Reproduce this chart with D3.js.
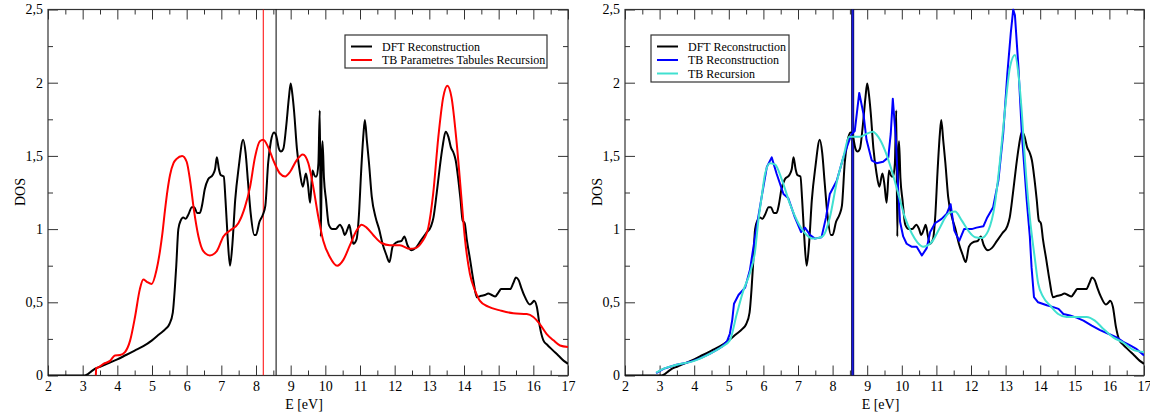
<!DOCTYPE html>
<html>
<head>
<meta charset="utf-8">
<script src="https://cdn.jsdelivr.net/npm/d3@7"></script>
<style>
  html, body { margin: 0; padding: 0; background: #fff; }
  svg { display: block; }
  text { font-family: "Liberation Serif", "Times New Roman", "DejaVu Serif", serif; }
</style>
</head>
<body>
<svg id="chart" width="1150" height="414"></svg>
<script>
// ---------- DATA (E [eV], DOS) ----------
const xMajorTicks = [2,3,4,5,6,7,8,9,10,11,12,13,14,15,16,17];
const yMajorTicks = [0, 0.5, 1, 1.5, 2, 2.5];
const yTickLabels = ["0", "0,5", "1", "1,5", "2", "2,5"];

const dftReconstruction = [
  [2,0],[3.05,0],[3.15,0.01],[3.26,0.03],[3.35,0.045],[3.5,0.06],[3.75,0.085],[4.0,0.11],
  [4.25,0.14],[4.5,0.17],[4.75,0.2],[5.0,0.24],[5.2,0.28],[5.4,0.32],[5.5,0.35],[5.6,0.43],
  [5.66,0.6],[5.7,0.75],[5.76,1.0],[5.83,1.06],[5.9,1.08],[5.97,1.07],[6.05,1.1],[6.15,1.15],
  [6.22,1.15],[6.3,1.11],[6.38,1.11],[6.45,1.17],[6.52,1.27],[6.62,1.34],[6.75,1.37],[6.82,1.41],
  [6.87,1.49],[6.93,1.41],[6.98,1.37],[7.07,1.36],[7.12,1.2],[7.18,0.95],[7.25,0.75],[7.32,0.9],
  [7.4,1.2],[7.5,1.42],[7.63,1.61],[7.7,1.52],[7.77,1.32],[7.85,1.1],[7.95,0.96],[8.0,0.96],
  [8.1,1.05],[8.2,1.1],[8.27,1.16],[8.35,1.45],[8.43,1.6],[8.52,1.66],[8.58,1.64],[8.66,1.55],
  [8.72,1.53],[8.79,1.55],[8.87,1.7],[8.95,1.9],[9.0,1.995],[9.05,1.92],[9.1,1.8],[9.18,1.55],
  [9.27,1.38],[9.35,1.29],[9.44,1.38],[9.5,1.3],[9.56,1.18],[9.63,1.40],[9.7,1.36],[9.75,1.36],
  [9.8,1.45],[9.84,1.81],[9.87,0.95],[9.9,1.5],[9.92,1.6],[9.96,1.35],[10.02,1.2],[10.1,1.03],
  [10.2,1.0],[10.3,1.0],[10.42,1.03],[10.5,1.0],[10.56,0.96],[10.64,1.0],[10.69,1.03],[10.75,0.96],
  [10.81,0.90],[10.9,0.93],[10.97,1.1],[11.03,1.38],[11.1,1.65],[11.14,1.745],[11.2,1.6],[11.26,1.45],
  [11.34,1.22],[11.45,1.08],[11.55,1.0],[11.65,0.9],[11.75,0.83],[11.85,0.775],[11.94,0.88],[12.06,0.91],
  [12.2,0.92],[12.28,0.95],[12.37,0.89],[12.49,0.855],[12.6,0.87],[12.75,0.92],[12.9,0.97],[13.05,1.02],
  [13.12,1.08],[13.21,1.24],[13.3,1.42],[13.38,1.56],[13.47,1.665],[13.55,1.63],[13.62,1.56],[13.7,1.52],
  [13.76,1.47],[13.83,1.35],[13.9,1.2],[13.96,1.06],[14.02,1.04],[14.08,0.93],[14.17,0.8],[14.27,0.65],
  [14.37,0.535],[14.5,0.545],[14.6,0.55],[14.7,0.56],[14.8,0.55],[14.9,0.54],[15.0,0.57],[15.07,0.59],
  [15.33,0.59],[15.42,0.63],[15.5,0.67],[15.58,0.65],[15.65,0.6],[15.76,0.535],[15.9,0.485],[15.98,0.5],
  [16.02,0.51],[16.1,0.47],[16.19,0.33],[16.29,0.24],[16.4,0.21],[16.55,0.175],[16.72,0.137],[16.88,0.1],
  [17.0,0.08]
];

const tbParametresTabules = [
  [3.38,0],[3.39,0.05],[3.45,0.055],[3.6,0.08],[3.79,0.10],[3.93,0.137],[4.08,0.14],[4.22,0.16],
  [4.37,0.24],[4.51,0.40],[4.65,0.59],[4.75,0.655],[4.85,0.64],[4.99,0.625],[5.13,0.72],[5.23,0.85],
  [5.3,0.97],[5.37,1.12],[5.45,1.27],[5.52,1.37],[5.62,1.45],[5.71,1.48],[5.87,1.50],[6.0,1.46],
  [6.1,1.33],[6.21,1.13],[6.34,0.95],[6.48,0.85],[6.67,0.82],[6.87,0.85],[7.06,0.95],[7.25,0.99],
  [7.49,1.04],[7.68,1.15],[7.83,1.29],[7.97,1.49],[8.11,1.60],[8.21,1.61],[8.35,1.56],[8.5,1.47],
  [8.69,1.38],[8.84,1.36],[8.98,1.39],[9.17,1.47],[9.35,1.51],[9.51,1.45],[9.65,1.29],[9.8,1.08],
  [9.94,0.92],[10.13,0.81],[10.34,0.75],[10.52,0.79],[10.71,0.89],[10.9,0.99],[11.05,1.03],[11.19,1.01],
  [11.38,0.96],[11.62,0.905],[11.86,0.89],[12.15,0.89],[12.44,0.865],[12.6,0.87],[12.78,0.91],[12.97,1.01],
  [13.11,1.24],[13.26,1.63],[13.4,1.90],[13.52,1.98],[13.64,1.90],[13.79,1.585],[13.93,1.20],[14.02,0.95],
  [14.17,0.695],[14.32,0.58],[14.46,0.51],[14.7,0.47],[15.04,0.445],[15.42,0.425],[15.81,0.42],[16.0,0.40],
  [16.19,0.35],[16.38,0.285],[16.58,0.24],[16.77,0.205],[17.0,0.195]
];

const tbReconstruction = [
  [2.9,0.016],[3.0,0.03],[3.11,0.045],[3.3,0.06],[3.49,0.073],[3.75,0.085],[3.97,0.10],[4.2,0.12],
  [4.46,0.15],[4.65,0.175],[4.79,0.195],[4.95,0.235],[5.03,0.285],[5.1,0.38],[5.15,0.49],[5.28,0.55],
  [5.47,0.60],[5.61,0.72],[5.76,0.95],[5.85,1.08],[5.95,1.22],[6.10,1.425],[6.24,1.49],[6.38,1.38],
  [6.58,1.24],[6.72,1.21],[6.91,1.08],[7.09,0.98],[7.2,1.01],[7.35,0.96],[7.49,0.935],[7.68,0.945],
  [7.81,1.08],[7.92,1.24],[8.12,1.33],[8.31,1.49],[8.45,1.585],[8.55,1.65],[8.64,1.67],[8.77,1.93],
  [8.89,1.79],[8.98,1.61],[9.13,1.47],[9.27,1.45],[9.46,1.46],[9.61,1.49],[9.68,1.65],[9.74,1.89],
  [9.83,1.61],[9.9,1.25],[9.95,1.05],[10.04,0.95],[10.14,0.90],[10.28,0.88],[10.43,0.88],[10.58,0.82],
  [10.72,0.87],[10.82,0.98],[10.96,1.04],[11.15,1.07],[11.30,1.105],[11.41,1.17],[11.52,0.99],[11.66,0.92],
  [11.80,1.00],[12.02,1.00],[12.16,1.01],[12.36,1.02],[12.47,1.08],[12.64,1.15],[12.79,1.33],[12.93,1.65],
  [13.05,2.06],[13.15,2.34],[13.22,2.50],[13.27,2.46],[13.37,2.11],[13.47,1.65],[13.61,1.20],[13.7,0.95],
  [13.75,0.74],[13.82,0.535],[13.94,0.50],[14.19,0.48],[14.38,0.467],[14.53,0.455],[14.67,0.42],[14.86,0.41],
  [15.05,0.395],[15.25,0.375],[15.49,0.34],[15.73,0.31],[15.97,0.285],[16.21,0.26],[16.40,0.23],[16.60,0.205],
  [16.79,0.18],[17.0,0.137]
];

const tbRecursion = [
  [2.9,0.02],[3.1,0.045],[3.5,0.073],[4.0,0.10],[4.46,0.15],[4.79,0.195],[5.03,0.24],[5.23,0.42],
  [5.42,0.58],[5.61,0.70],[5.76,0.85],[5.85,1.05],[5.95,1.22],[6.05,1.38],[6.19,1.45],[6.34,1.44],
  [6.53,1.34],[6.77,1.17],[7.01,1.04],[7.25,0.96],[7.44,0.935],[7.6,0.94],[7.73,0.955],[7.92,1.08],
  [8.12,1.32],[8.31,1.49],[8.48,1.63],[8.64,1.63],[8.79,1.63],[8.98,1.65],[9.16,1.665],[9.32,1.63],
  [9.51,1.54],[9.71,1.40],[9.90,1.24],[10.09,1.08],[10.29,0.97],[10.45,0.91],[10.62,0.88],[10.86,0.91],
  [11.10,1.01],[11.34,1.105],[11.54,1.12],[11.73,1.06],[11.92,0.99],[12.12,0.945],[12.31,0.94],[12.50,0.99],
  [12.69,1.17],[12.84,1.47],[12.98,1.81],[13.13,2.11],[13.27,2.19],[13.37,2.06],[13.47,1.79],[13.56,1.47],
  [13.70,1.08],[13.85,0.79],[13.94,0.63],[14.09,0.535],[14.28,0.48],[14.52,0.42],[14.76,0.40],[15.05,0.40],
  [15.34,0.40],[15.58,0.375],[15.82,0.32],[16.11,0.26],[16.40,0.225],[16.69,0.175],[17.0,0.16]
];

// Fermi levels (vertical markers)
const fermiLeft = [{E: 8.21, color: "#ff0000"}, {E: 8.58, color: "#000000"}];
const fermiRight = [{E: 8.58, color: "#000000"}, {E: 8.58, color: "#1a1ae0"}];

// ---------- DRAWING ----------
const svg = d3.select("#chart");
const TOP = 9.5, BOTTOM = 375.5;
const FONT = '"Liberation Serif", "Times New Roman", "DejaVu Serif", serif';

function drawPanel(id, left, right, series, vlines, legend, vlineWidth) {
  const g = svg.append("g");
  const x = d3.scaleLinear().domain([2, 17]).range([left, right]);
  const y = d3.scaleLinear().domain([0, 2.5]).range([BOTTOM, TOP]);

  const clipId = "clip" + id;
  svg.append("defs").append("clipPath").attr("id", clipId)
    .append("rect").attr("x", left).attr("y", TOP - 1).attr("width", right - left).attr("height", BOTTOM - TOP + 1);

  const xMinor = d3.range(2.5, 17, 1);
  const yMinor = [0.25, 0.75, 1.25, 1.75, 2.25];

  const styleAxis = sel => {
    sel.attr("font-family", FONT);
    sel.select(".domain").remove();
    sel.selectAll(".tick line").attr("stroke", "#333").attr("stroke-width", 1);
    sel.selectAll(".tick text").attr("fill", "#000").style("font-size", "14px")
      .style("font-family", FONT);
  };

  // bottom
  g.append("g").attr("transform", `translate(0,${BOTTOM})`)
    .call(d3.axisBottom(x).tickValues(xMajorTicks).tickSize(-10).tickPadding(6).tickFormat(d3.format("d")))
    .call(styleAxis);
  g.append("g").attr("transform", `translate(0,${BOTTOM})`)
    .call(d3.axisBottom(x).tickValues(xMinor).tickSize(-5).tickFormat(""))
    .call(styleAxis);
  // top
  g.append("g").attr("transform", `translate(0,${TOP})`)
    .call(d3.axisTop(x).tickValues(xMajorTicks).tickSize(-10).tickFormat(""))
    .call(styleAxis);
  g.append("g").attr("transform", `translate(0,${TOP})`)
    .call(d3.axisTop(x).tickValues(xMinor).tickSize(-5).tickFormat(""))
    .call(styleAxis);
  // left
  g.append("g").attr("transform", `translate(${left},0)`)
    .call(d3.axisLeft(y).tickValues(yMajorTicks).tickSize(-10).tickPadding(5)
      .tickFormat((d, i) => yTickLabels[i]))
    .call(styleAxis);
  g.append("g").attr("transform", `translate(${left},0)`)
    .call(d3.axisLeft(y).tickValues(yMinor).tickSize(-5).tickFormat(""))
    .call(styleAxis);
  // right
  g.append("g").attr("transform", `translate(${right},0)`)
    .call(d3.axisRight(y).tickValues(yMajorTicks).tickSize(-10).tickFormat(""))
    .call(styleAxis);
  g.append("g").attr("transform", `translate(${right},0)`)
    .call(d3.axisRight(y).tickValues(yMinor).tickSize(-5).tickFormat(""))
    .call(styleAxis);

  // frame
  g.append("rect").attr("x", left).attr("y", TOP).attr("width", right - left).attr("height", BOTTOM - TOP)
    .attr("fill", "none").attr("stroke", "#333").attr("stroke-width", 1.2);

  // axis titles
  g.append("text").attr("x", (left + right) / 2 - 4).attr("y", 409).attr("text-anchor", "middle")
    .style("font-size", "14px").style("font-family", FONT).text("E [eV]");
  g.append("text").attr("transform", `translate(${left - 23},192) rotate(-90)`).attr("text-anchor", "middle")
    .style("font-size", "14px").style("font-family", FONT).text("DOS");

  const plot = g.append("g").attr("clip-path", `url(#${clipId})`);

  // vertical markers
  vlines.forEach((v, i) => {
    plot.append("line").attr("x1", x(v.E)).attr("x2", x(v.E)).attr("y1", TOP).attr("y2", BOTTOM)
      .attr("stroke", v.color).attr("stroke-width", vlineWidth[i]);
  });

  // curves
  series.forEach(s => {
    const line = d3.line().x(d => x(d[0])).y(d => y(d[1])).curve(s.curve);
    plot.append("path").datum(s.data).attr("d", line).attr("fill", "none")
      .attr("stroke", s.color).attr("stroke-width", 2).attr("stroke-linejoin", "round");
  });

  // legend
  const lg = g.append("g");
  lg.append("rect").attr("x", legend.x).attr("y", legend.y).attr("width", legend.w).attr("height", legend.h)
    .attr("fill", "#fff").attr("stroke", "#333").attr("stroke-width", 1.2);
  legend.items.forEach((it, i) => {
    const cy = legend.y + 11.5 + i * 13.5;
    lg.append("line").attr("x1", legend.x + 6).attr("x2", legend.x + 27).attr("y1", cy).attr("y2", cy)
      .attr("stroke", it.color).attr("stroke-width", 2);
    lg.append("text").attr("x", legend.x + 37).attr("y", cy + 4).style("font-size", "12px")
      .style("font-family", FONT).text(it.label);
  });
}

const smooth = d3.curveMonotoneX;

drawPanel("L", 48, 568,
  [
    {data: dftReconstruction, color: "#000000", curve: smooth},
    {data: tbParametresTabules, color: "#ff0000", curve: smooth}
  ],
  fermiLeft,
  {x: 345, y: 35, w: 202, h: 33, items: [
    {label: "DFT Reconstruction", color: "#000000"},
    {label: "TB Parametres Tabules Recursion", color: "#ff0000"}
  ]},
  [1, 1]
);

drawPanel("R", 625, 1144,
  [
    {data: dftReconstruction, color: "#000000", curve: smooth},
    {data: tbReconstruction, color: "#0000ff", curve: d3.curveLinear},
    {data: tbRecursion, color: "#40e0d0", curve: smooth}
  ],
  fermiRight,
  {x: 651, y: 35, w: 138, h: 47, items: [
    {label: "DFT Reconstruction", color: "#000000"},
    {label: "TB Reconstruction", color: "#0000ff"},
    {label: "TB Recursion", color: "#40e0d0"}
  ]},
  [3, 2]
);
</script>
</body>
</html>
